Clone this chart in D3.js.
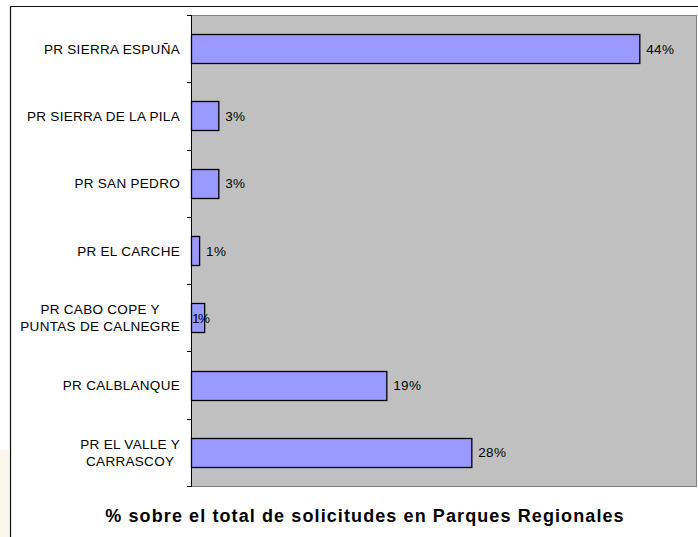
<!DOCTYPE html>
<html>
<head>
<meta charset="utf-8">
<script src="https://cdn.jsdelivr.net/npm/d3@7"></script>
<style>
  body { margin: 0; background: #fff; }
  svg text { font-family: "Liberation Sans", Arial, sans-serif; fill: #000; }
</style>
</head>
<body>
<svg id="chart" width="698" height="537"></svg>
<script>
// categories (top to bottom), "\n" = line break in the label
var categories = [
  "PR SIERRA ESPUÑA",
  "PR SIERRA DE LA PILA",
  "PR SAN PEDRO",
  "PR EL CARCHE",
  "PR CABO COPE Y\nPUNTAS DE CALNEGRE",
  "PR CALBLANQUE",
  "PR EL VALLE Y\nCARRASCOY"
];
// % of total requests
var values = [44.3, 2.7, 2.7, 0.8, 1.3, 19.3, 27.7];
var xMax = 50;
var title = "% sobre el total de solicitudes en Parques Regionales";

var data = categories.map(function(c, i) { return { name: c, value: values[i] }; });

var svg = d3.select("#chart"),
    plot = { left: 191, right: 697, top: 15, bottom: 486 };

// faint cream corner + outer frame
svg.append("rect").attr("x", 0).attr("y", 450).attr("width", 9).attr("height", 87)
    .attr("fill", "#fcf6ea");
svg.append("path")
    .attr("d", "M10.5,537V6.5H698")
    .attr("fill", "none").attr("stroke", "#111").attr("stroke-width", 1.2);

var x = d3.scaleLinear().domain([0, xMax]).range([plot.left, plot.right]);
var y = d3.scaleBand().domain(categories)
    .range([plot.top, plot.bottom])
    .paddingInner(0.57).paddingOuter(0.285);

// plot area
svg.append("rect")
    .attr("x", plot.left + 0.5).attr("y", plot.top + 0.5)
    .attr("width", plot.right - plot.left - 1).attr("height", plot.bottom - plot.top)
    .attr("fill", "#c0c0c0").attr("stroke", "#808080");

// bars
svg.append("g").selectAll("rect")
  .data(data)
  .enter().append("rect")
    .attr("x", x(0) + 0.5)
    .attr("y", function(d) { return Math.round(y(d.name)) + 0.5; })
    .attr("width", function(d) { return x(d.value) - x(0); })
    .attr("height", Math.round(y.bandwidth()))
    .attr("fill", "#9999ff")
    .attr("stroke", "#000").attr("stroke-width", 1.3);

// category axis with ticks between bands
var axis = svg.append("g");
axis.append("line")
    .attr("x1", plot.left + 0.5).attr("x2", plot.left + 0.5)
    .attr("y1", plot.top).attr("y2", plot.bottom + 1)
    .attr("stroke", "#000");
axis.selectAll("line.tick")
  .data(d3.range(categories.length + 1))
  .enter().append("line")
    .attr("class", "tick")
    .attr("x1", plot.left - 4).attr("x2", plot.left)
    .attr("y1", function(i) { return Math.round(plot.top + i * y.step()) + 0.5; })
    .attr("y2", function(i) { return Math.round(plot.top + i * y.step()) + 0.5; })
    .attr("stroke", "#000");

var lineH = 17, labelRight = 180;
data.forEach(function(d) {
  var lines = d.name.split("\n"),
      cy = y(d.name) + y.bandwidth() / 2;
  var t = axis.append("g");
  var texts = lines.map(function(l, i) {
    return t.append("text")
        .attr("y", cy + 5 + (i - (lines.length - 1) / 2) * lineH)
        .style("font-size", "13.5px")
        .style("letter-spacing", "0.3px")
        .text(l);
  });
  var w = d3.max(texts, function(s) { return s.node().getComputedTextLength(); });
  texts.forEach(function(s) {
    s.attr("text-anchor", "middle").attr("x", labelRight - w / 2);
  });
});

// value labels (the Cabo Cope one sits over its own bar, as in the original)
svg.append("g").selectAll("text")
  .data(data)
  .enter().append("text")
    .attr("x", function(d) { return d.name.indexOf("PR CABO") === 0 ? x(0) + 1 : x(d.value) + 7; })
    .attr("y", function(d) { return y(d.name) + y.bandwidth() / 2 + 5; })
    .style("font-size", "13.5px")
    .style("letter-spacing", function(d) { return d.name.indexOf("PR CABO") === 0 ? "-1.5px" : "0.3px"; })
    .text(function(d) { return Math.round(d.value) + "%"; });

// title
svg.append("text")
    .attr("x", 365).attr("y", 522)
    .attr("text-anchor", "middle")
    .style("font-size", "18px").style("font-weight", "bold")
    .style("letter-spacing", "1.1px")
    .text(title);
</script>
</body>
</html>
